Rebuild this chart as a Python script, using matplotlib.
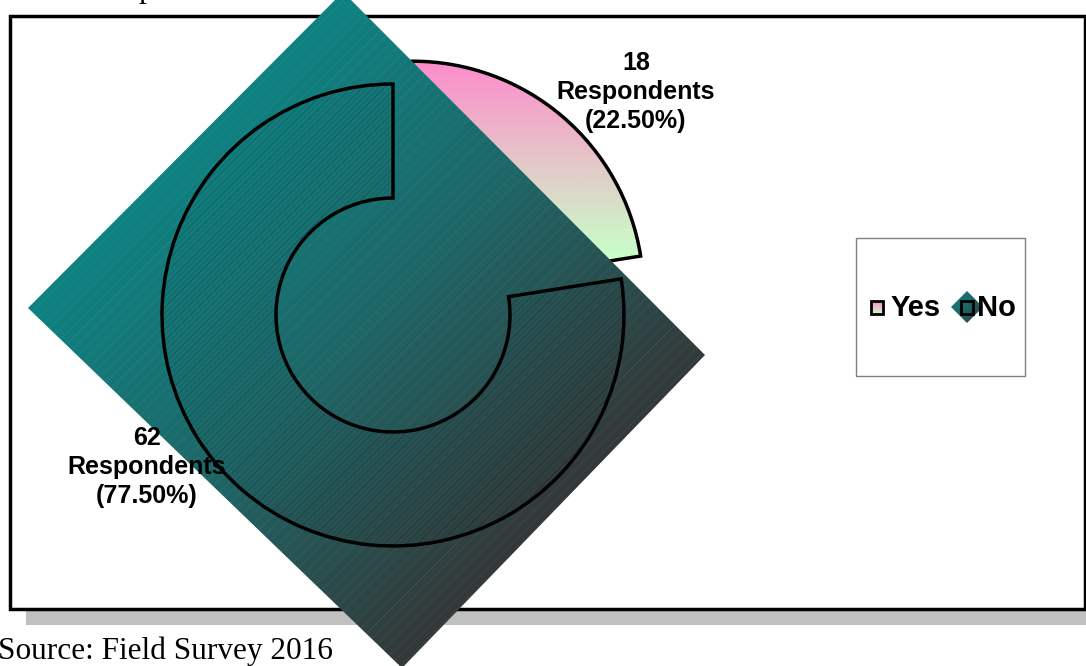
import numpy as np
import matplotlib
matplotlib.use('Agg')
import matplotlib.pyplot as plt
from matplotlib.patches import Rectangle, Polygon, PathPatch
from matplotlib.colors import LinearSegmentedColormap

# ---- data ----
categories = ['Yes', 'No']
respondents = [18, 62]
percent_labels = ['22.50%', '77.50%']
source_text = 'Source: Field Survey 2016'

W, H = 1086, 666
fig = plt.figure(figsize=(W / 100, H / 100), dpi=100)
ax = fig.add_axes([0, 0, 1, 1])


def Y(y):
    return H - y


plt.rcParams['hatch.linewidth'] = 0.6

# ---- plot area frame + shadow ----
ax.add_patch(Rectangle((26, Y(625)), 1075, 593, facecolor='#c0c0c0', lw=0, zorder=0.4))
ax.add_patch(Rectangle((10, Y(609)), 1075, 593, facecolor='white', edgecolor='black', lw=2.5, zorder=0.5))

# ---- doughnut ----
cx, cy, R, ring = 393, Y(315), 231, 114
wedges, _ = ax.pie(respondents, startangle=90, counterclock=False, radius=R,
                   center=(cx, cy), explode=[30, 0], frame=True,
                   wedgeprops=dict(width=ring, linewidth=2.5, edgecolor='black'))
yes_w, no_w = wedges
yes_w.set_facecolor('none')
yes_w.set_zorder(1.4)
no_w.set_facecolor('none')
no_w.set_zorder(3)

# gradient fill for "Yes"
yes_cmap = LinearSegmentedColormap.from_list('yes', ['#c8ffc8', '#e6c4c8', '#ff88cc'])
grad = np.linspace(0, 1, 256).reshape(-1, 1)
im = ax.imshow(grad, cmap=yes_cmap, origin='lower', aspect='auto',
               extent=(395, 660, Y(258), Y(55)), zorder=1.2, interpolation='bilinear')
im.set_clip_path(yes_w)

# big rotated rectangle with teal -> dark gradient
diam_px = [(343, -8), (705, 355), (402, 668), (28, 308)]
diamond = Polygon([(x, Y(y)) for x, y in diam_px], closed=True, facecolor='none', lw=0, zorder=2)
ax.add_patch(diamond)
xs = np.linspace(20, 712, 400)
ys = np.linspace(-12, 672, 400)
XX, YY = np.meshgrid(xs, ys)
t = np.clip((XX + YY - 335) / 735, 0, 1)
dia_cmap = LinearSegmentedColormap.from_list('dia', ['#0f8282', '#1f6566', '#343838'])
im2 = ax.imshow(t, cmap=dia_cmap, origin='upper', aspect='auto',
                extent=(20, 712, Y(672), Y(-12)), zorder=2, interpolation='bilinear')
im2.set_clip_path(diamond)
ax.add_patch(Polygon([(x, Y(y)) for x, y in diam_px], closed=True, facecolor='none',
                     edgecolor=(1, 1, 1, 0.06), hatch='///', lw=0, zorder=2.1))

# faint hatching inside the "No" ring
ax.add_patch(PathPatch(no_w.get_path(), facecolor='none', edgecolor=(0, 0, 0, 0.22),
                       hatch='//////', lw=0, zorder=2.5))

# ---- data labels ----
lab_font = dict(family='Liberation Sans', fontweight='bold', fontsize=18,
                ha='center', va='center', linespacing=1.25, zorder=5)
ax.text(636, Y(92), f"{respondents[0]}\nRespondents\n({percent_labels[0]})", **lab_font)
ax.text(147, Y(467), f"{respondents[1]}\nRespondents\n({percent_labels[1]})", **lab_font)

# ---- legend ----
ax.add_patch(Rectangle((856, Y(376)), 169, 138, facecolor='white', edgecolor='#808080', lw=1, zorder=4))
sq = Rectangle((871, Y(314)), 12, 13, facecolor='none', edgecolor='black', lw=2, zorder=4.6)
ax.add_patch(sq)
im3 = ax.imshow(grad, cmap=yes_cmap, origin='lower', aspect='auto',
                extent=(871, 883, Y(314), Y(301)), zorder=4.5)
im3.set_clip_path(sq)
mcx, mcy, hd = 967, 307, 16
mdia = Polygon([(mcx, Y(mcy - hd)), (mcx + hd, Y(mcy)), (mcx, Y(mcy + hd)), (mcx - hd, Y(mcy))],
               closed=True, facecolor='none', lw=0, zorder=4.5)
ax.add_patch(mdia)
mt = np.clip((np.linspace(0, 1, 50)[None, :] + np.linspace(0, 1, 50)[:, None]) / 2, 0, 1)
im4 = ax.imshow(mt, cmap=dia_cmap, origin='upper', aspect='auto',
                extent=(mcx - hd, mcx + hd, Y(mcy + hd), Y(mcy - hd)), zorder=4.5)
im4.set_clip_path(mdia)
ax.add_patch(Rectangle((961, Y(314)), 12, 13, facecolor='none', edgecolor='black', lw=2, zorder=4.6))
leg_font = dict(family='Liberation Sans', fontweight='bold', fontsize=21, va='center', zorder=5)
ax.text(891, Y(308), categories[0], **leg_font)
ax.text(977, Y(308), categories[1], **leg_font)

# ---- source / caption fragments ----
ax.text(-2, Y(659), source_text, family='Liberation Serif', fontsize=22.5, va='baseline', zorder=5)
ax.text(138, Y(-3), 'p', family='Liberation Serif', fontsize=22.5, va='baseline', zorder=5)

ax.set_xlim(0, W)
ax.set_ylim(0, H)
ax.set_aspect('auto')
ax.axis('off')
fig.savefig('out.png', dpi=100)
